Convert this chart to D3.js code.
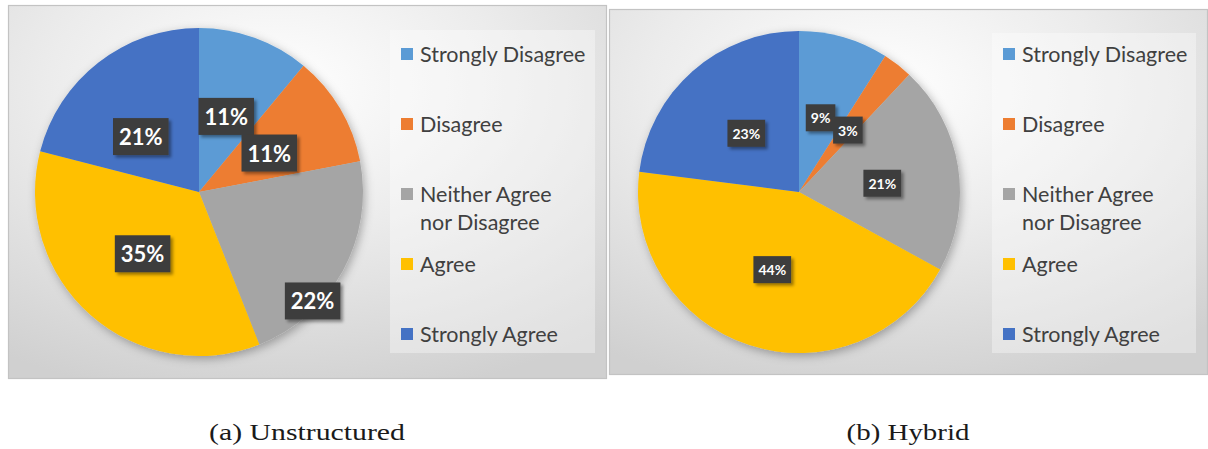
<!DOCTYPE html>
<html>
<head>
<meta charset="utf-8">
<script src="https://cdn.jsdelivr.net/npm/d3@7/dist/d3.min.js"></script>
<style>
  html, body { margin: 0; padding: 0; background: #ffffff; }
  svg { display: block; }
</style>
</head>
<body>
<svg id="chart" width="1208" height="449"></svg>
<script>
// Survey responses (percent of participants)
const categories = ["Strongly Disagree", "Disagree", "Neither Agree nor Disagree", "Agree", "Strongly Agree"];
const legendLines = [["Strongly Disagree"], ["Disagree"], ["Neither Agree", "nor Disagree"], ["Agree"], ["Strongly Agree"]];
const unstructuredValues = [11, 11, 22, 35, 21];
const hybridValues = [9, 3, 21, 44, 23];
const sliceColors = ["#5b9bd5", "#ed7d31", "#a5a5a5", "#ffc000", "#4472c4"];
const captions = ["(a) Unstructured", "(b) Hybrid"];

// Layout of the two chart panels
const layout = [
  { values: unstructuredValues, caption: captions[0],
    x: 8, y: 5, w: 599, h: 374, cx: 191, cy: 187, r: 164,
    legend: { x: 382, y: 25, w: 205, h: 323, first: 24 },
    labelFont: 22, labelBoxH: 37, labelPad: 6,
    labelRadius: [0.49, 0.49, 0.96, 0.51, 0.49],
    labelShift: [0, 1.6, 15, 1, -8.6],
    captionX: 307, captionW: 196 },
  { values: hybridValues, caption: captions[1],
    x: 609, y: 9, w: 599, h: 366, cx: 190, cy: 183, r: 161,
    legend: { x: 383, y: 24, w: 204, h: 320, first: 21 },
    labelFont: 14, labelBoxH: 27, labelPad: 5,
    labelRadius: [0.48, 0.49, 0.52, 0.51, 0.49],
    labelShift: [0, 0.5, 3, 1, -0.5],
    captionX: 908, captionW: 123 }
];

const svg = d3.select("#chart");
const defs = svg.append("defs");

const grad = defs.append("radialGradient")
  .attr("id", "panelBg").attr("cx", "45%").attr("cy", "22%").attr("r", "85%")
  .attr("fx", "45%").attr("fy", "22%");
grad.append("stop").attr("offset", "0%").attr("stop-color", "#ffffff");
grad.append("stop").attr("offset", "45%").attr("stop-color", "#ececec");
grad.append("stop").attr("offset", "100%").attr("stop-color", "#d0d0d0");

const pieShadow = defs.append("filter").attr("id", "pieShadow")
  .attr("x", "-20%").attr("y", "-20%").attr("width", "140%").attr("height", "140%");
pieShadow.append("feDropShadow").attr("dx", 2).attr("dy", 3).attr("stdDeviation", 5)
  .attr("flood-color", "#000").attr("flood-opacity", 0.3);

const boxShadow = defs.append("filter").attr("id", "boxShadow")
  .attr("x", "-30%").attr("y", "-30%").attr("width", "160%").attr("height", "160%");
boxShadow.append("feDropShadow").attr("dx", 2.5).attr("dy", 2.5).attr("stdDeviation", 1.5)
  .attr("flood-color", "#000").attr("flood-opacity", 0.4);

const pie = d3.pie().sort(null).value(d => d);
const color = d3.scaleOrdinal().domain(categories).range(sliceColors);

layout.forEach(p => {
  const g = svg.append("g").attr("transform", `translate(${p.x},${p.y})`);

  // panel
  g.append("rect")
    .attr("x", 0.5).attr("y", 0.5).attr("width", p.w - 1).attr("height", p.h - 1)
    .attr("fill", "url(#panelBg)").attr("stroke", "#c3c3c3").attr("stroke-width", 1.2);

  // legend box
  const lg = g.append("g").attr("transform", `translate(${p.legend.x},${p.legend.y})`);
  lg.append("rect").attr("width", p.legend.w).attr("height", p.legend.h)
    .attr("fill", "#ffffff").attr("fill-opacity", 0.35);

  const lineStep = 28, itemStep = 70;
  let yCursor = p.legend.first;
  categories.forEach((c, i) => {
    const lines = legendLines[i];
    lg.append("rect")
      .attr("x", 11).attr("y", yCursor - 6).attr("width", 12).attr("height", 12)
      .attr("fill", color(c));
    lines.forEach((ln, j) => {
      lg.append("text")
        .attr("x", 30).attr("y", yCursor + j * lineStep)
        .attr("dominant-baseline", "central")
        .attr("font-family", "Lato, 'Open Sans', sans-serif")
        .attr("font-size", 21.5)
        .attr("fill", "#404040")
        .text(ln);
    });
    yCursor += itemStep;
  });

  // pie
  const arcs = pie(p.values);
  const arc = d3.arc().innerRadius(0).outerRadius(p.r);
  const pg = g.append("g").attr("transform", `translate(${p.cx},${p.cy})`);
  pg.append("g").attr("filter", "url(#pieShadow)")
    .selectAll("path").data(arcs).join("path")
    .attr("d", arc)
    .attr("fill", (d, i) => color(categories[i]));

  // data labels
  arcs.forEach((d, i) => {
    const a = (d.startAngle + d.endAngle) / 2 + p.labelShift[i] * Math.PI / 180;
    const rr = p.labelRadius[i] * p.r;
    const lx = rr * Math.sin(a), ly = -rr * Math.cos(a);
    const lgp = pg.append("g").attr("transform", `translate(${lx},${ly})`);
    const box = lgp.append("rect").attr("fill", "#3d3d3d").attr("filter", "url(#boxShadow)");
    const t = lgp.append("text")
      .attr("text-anchor", "middle").attr("dominant-baseline", "central")
      .attr("font-family", "Lato, 'Open Sans', sans-serif")
      .attr("font-weight", "bold").attr("font-size", p.labelFont)
      .attr("fill", "#ffffff")
      .text(d.data + "%");
    const bw = t.node().getComputedTextLength() + 2 * p.labelPad;
    box.attr("x", -bw / 2).attr("y", -p.labelBoxH / 2)
      .attr("width", bw).attr("height", p.labelBoxH);
  });

  // caption, widened to the proportions of the document's serif face
  const cap = svg.append("g").attr("transform", `translate(${p.captionX},440)`);
  const ct = cap.append("text")
    .attr("text-anchor", "middle")
    .attr("font-family", "'Liberation Serif', serif")
    .attr("font-size", 24)
    .attr("fill", "#1a1a1a")
    .text(p.caption);
  const sx = p.captionW / ct.node().getComputedTextLength();
  ct.attr("transform", `scale(${sx},1)`);
});
</script>
</body>
</html>
